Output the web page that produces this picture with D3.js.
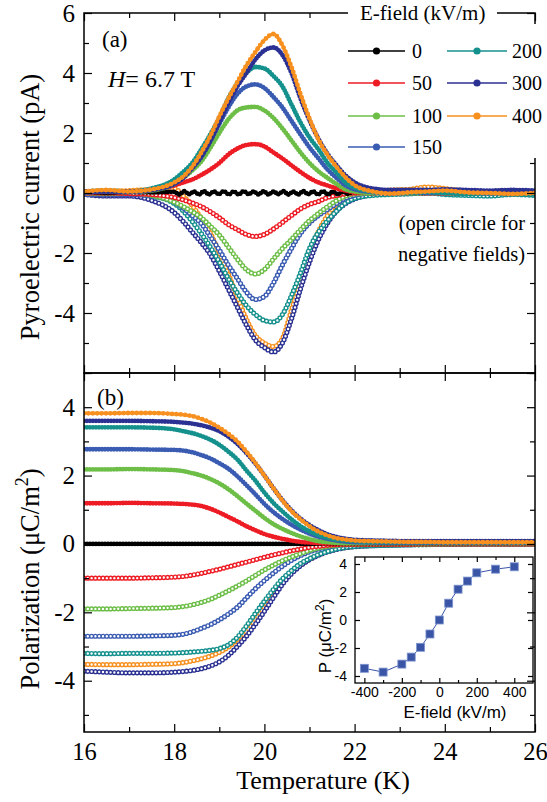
<!DOCTYPE html>
<html>
<head>
<meta charset="utf-8">
<script src="https://cdn.jsdelivr.net/npm/d3@7"></script>
<style>
  html, body { margin: 0; padding: 0; background: #fff; }
  svg { display: block; }
  .serif { font-family: "Liberation Serif", "Times New Roman", Times, serif; }
  .sans { font-family: "Liberation Sans", Arial, Helvetica, sans-serif; }
</style>
</head>
<body>
<svg id="fig" width="547" height="802"></svg>
<script>
// ---------- data ----------
// common temperature grid (K)
const temps = [16, 16.5, 17, 17.5, 18, 18.2, 18.4, 18.6, 18.8, 19, 19.2, 19.4, 19.6, 19.8, 20, 20.2,
  20.4, 20.6, 20.8, 21, 21.2, 21.4, 21.6, 21.8, 22, 22.4, 22.8, 23.2, 23.6, 24, 24.5, 25, 25.5, 26];

// finer grid for the zero-field current trace
const tempsFine = [16, 16.5, 17, 17.5,
  18.0, 18.11, 18.22, 18.33, 18.44, 18.55, 18.66, 18.77, 18.88, 18.99,
  19.1, 19.21, 19.32, 19.43, 19.54, 19.65, 19.76, 19.87, 19.98, 20.09,
  20.2, 20.31, 20.42, 20.53, 20.64, 20.75, 20.86, 20.97, 21.08, 21.19,
  21.3, 21.41, 21.52, 21.63, 21.74, 21.85, 21.96,
  22.4, 23, 23.5, 24, 24.5, 25, 25.5, 26];

const fieldLabels = ["0", "50", "100", "150", "200", "300", "400"];

// (a) pyroelectric current, pA
const cur0 = [0.02, 0.0, 0.03, 0.02,
  0.04, -0.05, 0.06, -0.04, 0.05, -0.05, 0.06, -0.05, 0.05, -0.04,
  0.06, -0.05, 0.05, -0.05, 0.06, -0.04, 0.05, -0.05, 0.06, -0.05,
  0.05, -0.04, 0.06, -0.05, 0.05, -0.05, 0.06, -0.04, 0.05, -0.05,
  0.06, -0.05, 0.05, -0.04, 0.05, -0.03, 0.04,
  0.0, 0.02, 0.0, 0.02, 0.0, 0.01, 0.0, 0.02];
const cur50 = [0.0, 0.03, 0.02, 0.1, 0.25, 0.35, 0.45, 0.6, 0.78, 1.0, 1.28, 1.48, 1.6, 1.63, 1.55, 1.35,
  1.15, 0.92, 0.7, 0.5, 0.35, 0.25, 0.15, 0.08, 0.03, 0.0, 0.02, 0.0, 0.03, 0.0, -0.02, 0.0, 0.02, 0.0];
const cur100 = [0.03, 0.05, 0.03, 0.08, 0.3, 0.5, 0.75, 1.05, 1.5, 2.0, 2.45, 2.75, 2.85, 2.87, 2.75, 2.5,
  2.15, 1.75, 1.35, 1.0, 0.72, 0.5, 0.3, 0.12, 0.05, 0.0, 0.02, 0.0, 0.02, 0.0, 0.0, -0.02, 0.0, 0.0];
const cur150 = [0.0, 0.05, 0.03, 0.1, 0.35, 0.55, 0.85, 1.25, 1.75, 2.3, 2.85, 3.3, 3.55, 3.62, 3.5, 3.2,
  2.85, 2.4, 1.95, 1.52, 1.15, 0.78, 0.5, 0.25, 0.12, 0.03, 0.0, 0.02, 0.0, 0.02, 0.0, -0.02, 0.0, 0.0];
const cur200 = [0.05, 0.08, 0.05, 0.15, 0.45, 0.7, 1.0, 1.45, 1.95, 2.5, 3.15, 3.65, 4.0, 4.2, 4.15, 3.9,
  3.55, 2.95, 2.35, 1.85, 1.45, 1.0, 0.68, 0.35, 0.18, 0.05, 0.02, 0.0, 0.03, 0.0, -0.03, 0.0, -0.02, -0.05];
const cur300 = [0.05, 0.05, 0.05, 0.1, 0.3, 0.5, 0.83, 1.2, 1.72, 2.35, 3.0, 3.55, 4.0, 4.45, 4.75, 4.85,
  4.6, 4.0, 3.15, 2.42, 1.8, 1.3, 0.92, 0.58, 0.35, 0.15, 0.1, 0.1, 0.1, 0.12, 0.1, 0.08, 0.1, 0.08];
const cur400 = [0.05, 0.1, 0.05, 0.12, 0.35, 0.55, 0.88, 1.35, 1.9, 2.55, 3.15, 3.7, 4.25, 4.7, 5.1, 5.3,
  4.92, 4.2, 3.3, 2.48, 1.78, 1.27, 0.87, 0.52, 0.26, 0.05, -0.02, 0.02, 0.05, 0.08, 0.02, 0.0, -0.03, 0.0];

const curNeg50 = [0.0, 0.0, -0.02, -0.05, -0.15, -0.23, -0.33, -0.45, -0.62, -0.82, -1.05, -1.22, -1.38, -1.45, -1.38, -1.2,
  -0.98, -0.75, -0.53, -0.38, -0.28, -0.15, -0.08, -0.03, 0.0, 0.02, 0.0, 0.02, 0.0, 0.0, 0.02, 0.0, -0.02, 0.0];
const curNeg100 = [0.0, -0.02, 0.0, -0.08, -0.3, -0.45, -0.62, -0.82, -1.1, -1.4, -1.8, -2.2, -2.55, -2.7, -2.55, -2.2,
  -1.85, -1.55, -1.22, -0.92, -0.68, -0.45, -0.25, -0.1, -0.03, 0.0, 0.02, 0.0, 0.0, 0.02, 0.0, 0.0, 0.02, 0.0];
const curNeg150 = [-0.05, -0.05, -0.05, -0.1, -0.3, -0.5, -0.75, -1.02, -1.45, -1.9, -2.4, -2.85, -3.3, -3.55, -3.45, -3.0,
  -2.4, -1.85, -1.35, -1.0, -0.75, -0.55, -0.35, -0.17, -0.08, 0.0, 0.02, 0.0, 0.03, 0.0, 0.02, 0.0, 0.03, 0.0];
const curNeg200 = [0.0, -0.03, 0.0, -0.1, -0.35, -0.6, -0.95, -1.35, -1.8, -2.3, -2.85, -3.33, -3.75, -4.05, -4.25, -4.3,
  -4.05, -3.42, -2.67, -1.85, -1.3, -0.92, -0.6, -0.33, -0.18, -0.08, -0.05, -0.03, 0.0, -0.05, -0.08, -0.1, -0.05, -0.08];
const curNeg300 = [-0.05, -0.1, -0.1, -0.25, -0.65, -0.95, -1.3, -1.65, -2.05, -2.6, -3.2, -3.8, -4.4, -4.9, -5.15, -5.3,
  -5.0, -4.2, -3.2, -2.3, -1.55, -1.0, -0.6, -0.35, -0.2, -0.05, 0.0, 0.03, 0.05, 0.08, 0.05, 0.03, 0.05, 0.03];
const curNeg400 = [0.0, 0.05, 0.08, 0.12, 0.15, -0.1, -0.42, -0.85, -1.33, -2.0, -2.7, -3.47, -4.2, -4.75, -5.0, -5.12,
  -4.85, -3.9, -2.95, -2.05, -1.28, -0.75, -0.38, -0.15, 0.0, 0.05, 0.1, 0.12, 0.2, 0.15, 0.05, 0.0, 0.02, -0.02];

// (b) polarization, uC/m^2
const pol0 = [0, 0, 0, 0, 0, 0, 0, 0, 0, 0, 0, 0, 0, 0, 0, 0, 0, 0, 0, 0, 0, 0, 0, 0, 0, 0, 0, 0, 0, 0, 0, 0, 0, 0];
const pol50 = [1.19, 1.19, 1.2, 1.19, 1.18, 1.17, 1.15, 1.11, 1.03, 0.92, 0.79, 0.66, 0.52, 0.4, 0.29, 0.21,
  0.15, 0.1, 0.06, 0.04, 0.02, 0.01, 0.01, 0.01, 0.01, 0.01, 0.01, 0.01, 0.01, 0.01, 0.01, 0.01, 0.01, 0.01];
const pol100 = [2.18, 2.18, 2.19, 2.18, 2.16, 2.13, 2.07, 2.0, 1.9, 1.77, 1.6, 1.4, 1.18, 0.97, 0.76, 0.58,
  0.44, 0.32, 0.22, 0.14, 0.08, 0.05, 0.03, 0.02, 0.02, 0.02, 0.02, 0.02, 0.02, 0.02, 0.02, 0.02, 0.02, 0.02];
const pol150 = [2.77, 2.77, 2.77, 2.76, 2.75, 2.73, 2.68, 2.6, 2.5, 2.36, 2.2, 1.98, 1.72, 1.45, 1.17, 0.93,
  0.73, 0.56, 0.42, 0.3, 0.21, 0.15, 0.1, 0.07, 0.05, 0.04, 0.03, 0.03, 0.03, 0.03, 0.03, 0.03, 0.03, 0.03];
const pol200 = [3.41, 3.41, 3.41, 3.4, 3.35, 3.3, 3.24, 3.16, 3.05, 2.9, 2.7, 2.47, 2.15, 1.85, 1.5, 1.2,
  0.95, 0.72, 0.52, 0.37, 0.26, 0.18, 0.13, 0.1, 0.08, 0.06, 0.05, 0.05, 0.05, 0.05, 0.05, 0.05, 0.05, 0.05];
const pol300 = [3.6, 3.6, 3.6, 3.59, 3.57, 3.55, 3.52, 3.47, 3.4, 3.3, 3.14, 2.93, 2.66, 2.35, 2.0, 1.63,
  1.28, 0.98, 0.74, 0.55, 0.4, 0.28, 0.2, 0.15, 0.12, 0.1, 0.09, 0.08, 0.08, 0.08, 0.08, 0.08, 0.08, 0.08];
const pol400 = [3.82, 3.82, 3.83, 3.83, 3.8, 3.78, 3.74, 3.66, 3.55, 3.4, 3.22, 3.0, 2.7, 2.37, 2.0, 1.63,
  1.27, 0.96, 0.72, 0.52, 0.36, 0.25, 0.17, 0.13, 0.1, 0.08, 0.07, 0.06, 0.06, 0.05, 0.05, 0.05, 0.05, 0.05];

const polNeg50 = [-1.0, -1.0, -1.0, -0.99, -0.97, -0.95, -0.91, -0.86, -0.8, -0.74, -0.67, -0.6, -0.53, -0.46, -0.39, -0.32,
  -0.26, -0.2, -0.15, -0.1, -0.07, -0.04, -0.02, -0.01, -0.01, -0.01, -0.01, -0.01, 0.0, 0.0, 0.0, 0.0, 0.0, 0.0];
const polNeg100 = [-1.9, -1.9, -1.89, -1.88, -1.86, -1.83, -1.78, -1.71, -1.62, -1.5, -1.37, -1.23, -1.08, -0.92, -0.76, -0.62,
  -0.49, -0.38, -0.28, -0.19, -0.12, -0.07, -0.04, -0.02, -0.01, -0.01, -0.01, -0.01, -0.01, 0.0, 0.0, 0.0, 0.0, 0.0];
const polNeg150 = [-2.7, -2.7, -2.7, -2.69, -2.67, -2.64, -2.57, -2.47, -2.36, -2.22, -2.05, -1.85, -1.58, -1.31, -1.07, -0.85,
  -0.65, -0.48, -0.34, -0.23, -0.15, -0.09, -0.05, -0.03, -0.01, -0.01, -0.01, 0.0, 0.0, 0.0, 0.0, 0.0, 0.0, 0.0];
const polNeg200 = [-3.2, -3.21, -3.2, -3.2, -3.19, -3.18, -3.16, -3.14, -3.11, -3.06, -2.95, -2.73, -2.4, -2.03, -1.67, -1.33,
  -1.02, -0.78, -0.57, -0.43, -0.31, -0.22, -0.15, -0.1, -0.07, -0.05, -0.04, -0.03, -0.02, -0.01, 0.0, 0.01, 0.02, 0.02];
const polNeg300 = [-3.72, -3.75, -3.77, -3.77, -3.75, -3.73, -3.7, -3.65, -3.57, -3.45, -3.26, -3.0, -2.7, -2.35, -1.97, -1.57,
  -1.18, -0.87, -0.64, -0.46, -0.33, -0.23, -0.16, -0.11, -0.08, -0.05, -0.03, -0.02, -0.01, 0.0, 0.0, 0.0, 0.0, 0.0];
const polNeg400 = [-3.52, -3.53, -3.53, -3.52, -3.5, -3.47, -3.42, -3.36, -3.28, -3.17, -3.02, -2.8, -2.55, -2.22, -1.85, -1.48,
  -1.12, -0.83, -0.62, -0.45, -0.32, -0.22, -0.15, -0.1, -0.07, -0.04, -0.02, 0.0, 0.02, 0.03, 0.04, 0.05, 0.05, 0.05];

// inset: low-temperature polarization vs poling field
const insetFields = [-400, -300, -200, -150, -100, -50, 0, 50, 100, 150, 200, 300, 400];
const insetPol = [-3.45, -3.72, -3.15, -2.65, -1.95, -1.0, 0.0, 1.2, 2.2, 2.78, 3.37, 3.63, 3.8];

// axis ticks
const tempTicks = [16, 18, 20, 22, 24, 26];
const tempMinor = [17, 19, 21, 23, 25];
const curTicks = [-6, -4, -2, 0, 2, 4, 6];
const curTickLabels = [-4, -2, 0, 2, 4, 6];
const curMinor = [-5, -3, -1, 1, 3, 5];
const polTicks = [-4, -2, 0, 2, 4];
const polMinor = [-5, -3, -1, 1, 3, 5];
const insetXTicks = [-400, -200, 0, 200, 400];
const insetXMinor = [-300, -100, 100, 300];
const insetYTicks = [-4, -2, 0, 2, 4];

// ---------- drawing ----------
const svg = d3.select("#fig");

const left = 84, right = 535, topA = 13, mid = 373, bottomB = 732;
const x = d3.scaleLinear().domain([16, 26]).range([left, right]);
const yA = d3.scaleLinear().domain([-6, 6]).range([mid, topA]);
const yB = d3.scaleLinear().domain([-5.5, 5]).range([bottomB, mid]);

const color = {
  "0": "#000000", "50": "#ed1c24", "100": "#6cbe47", "150": "#3a5bb2",
  "200": "#14908d", "300": "#2b3192", "400": "#f7901e"
};

const defs = svg.append("defs");
defs.append("clipPath").attr("id", "clipA").append("rect")
  .attr("x", left).attr("y", topA).attr("width", right - left).attr("height", mid - topA);
defs.append("clipPath").attr("id", "clipB").append("rect")
  .attr("x", left).attr("y", mid).attr("width", right - left).attr("height", bottomB - mid);

// a trace drawn as a chain of filled or open circle markers
function trace(g, xs, ys, yScale, col, open, gap) {
  const line = d3.line()
    .x((d, i) => x(xs[i]))
    .y(d => yScale(d))
    .curve(d3.curveMonotoneX);
  const d = line(ys);
  if (open) {
    g.append("path").attr("d", d).attr("fill", "none").attr("stroke", col)
      .attr("stroke-width", 5.2).attr("stroke-linecap", "round")
      .attr("stroke-dasharray", `0 ${gap}`);
    g.append("path").attr("d", d).attr("fill", "none").attr("stroke", "#fff")
      .attr("stroke-width", 2.4).attr("stroke-linecap", "round")
      .attr("stroke-dasharray", `0 ${gap}`);
  } else {
    g.append("path").attr("d", d).attr("fill", "none").attr("stroke", col)
      .attr("stroke-width", 3).attr("stroke-linejoin", "round");
    g.append("path").attr("d", d).attr("fill", "none").attr("stroke", col)
      .attr("stroke-width", 4.8).attr("stroke-linecap", "round")
      .attr("stroke-dasharray", `0 ${gap}`);
  }
}

// panel (a)
const gA = svg.append("g").attr("clip-path", "url(#clipA)");
const negCur = [["400", curNeg400], ["300", curNeg300], ["200", curNeg200], ["150", curNeg150], ["100", curNeg100], ["50", curNeg50]];
negCur.forEach(([k, v]) => trace(gA, temps, v, yA, color[k], true, 3.8));
trace(gA, tempsFine, cur0, yA, color["0"], false, 3);
const posCur = [["50", cur50], ["100", cur100], ["150", cur150], ["200", cur200], ["300", cur300], ["400", cur400]];
posCur.forEach(([k, v]) => trace(gA, temps, v, yA, color[k], false, k === "400" ? 4.4 : 3));

// panel (b)
const gB = svg.append("g").attr("clip-path", "url(#clipB)");
const negPol = [["400", polNeg400], ["300", polNeg300], ["200", polNeg200], ["150", polNeg150], ["100", polNeg100], ["50", polNeg50]];
negPol.forEach(([k, v]) => trace(gB, temps, v, yB, color[k], true, 3.8));
trace(gB, temps, pol0, yB, color["0"], false, 3);
const posPol = [["50", pol50], ["100", pol100], ["150", pol150], ["200", pol200], ["300", pol300], ["400", pol400]];
posPol.forEach(([k, v]) => trace(gB, temps, v, yB, color[k], false, k === "400" ? 4.4 : 3));

// inset
const ix = d3.scaleLinear().domain([-450, 500]).range([355, 533]);
const iy = d3.scaleLinear().domain([-4.5, 4.5]).range([683, 557]);
const gI = svg.append("g");
gI.append("rect").attr("x", 355).attr("y", 557).attr("width", 533 - 355).attr("height", 683 - 557)
  .attr("fill", "#fff").attr("stroke", "#000").attr("stroke-width", 1.3);

function styleAxis(g, cls, size) {
  g.select(".domain").remove();
  g.attr("font-family", null);
  g.selectAll("line").attr("stroke", "#000").attr("stroke-width", 1.2);
  g.selectAll("text").attr("class", cls).attr("font-size", size).attr("fill", "#000");
  return g;
}
function addAxis(axis, tx, ty, cls, size) {
  const g = svg.append("g").attr("transform", `translate(${tx},${ty})`).call(axis);
  return styleAxis(g, cls, size);
}

addAxis(d3.axisBottom(ix).tickValues(insetXTicks).tickSizeInner(-5).tickSizeOuter(0).tickPadding(4)
  .tickFormat(d => String(d)), 0, 683, "sans", 14);
addAxis(d3.axisBottom(ix).tickValues(insetXMinor).tickSizeInner(-3).tickSizeOuter(0).tickFormat(""), 0, 683, "sans", 14);
addAxis(d3.axisTop(ix).tickValues(insetXTicks).tickSizeInner(-5).tickSizeOuter(0).tickFormat(""), 0, 557, "sans", 14);
addAxis(d3.axisTop(ix).tickValues(insetXMinor).tickSizeInner(-3).tickSizeOuter(0).tickFormat(""), 0, 557, "sans", 14);
addAxis(d3.axisLeft(iy).tickValues(insetYTicks).tickSizeInner(-5).tickSizeOuter(0).tickPadding(8)
  .tickFormat(d => String(d)), 355, 0, "sans", 14);
addAxis(d3.axisRight(iy).tickValues(insetYTicks).tickSizeInner(-5).tickSizeOuter(0).tickFormat(""), 533, 0, "sans", 14);

const insetLine = d3.line().x((d, i) => ix(insetFields[i])).y(d => iy(d));
gI.append("path").attr("d", insetLine(insetPol)).attr("fill", "none")
  .attr("stroke", "#3a56a8").attr("stroke-width", 1);
gI.selectAll("rect.sq").data(insetPol).enter().append("rect").attr("class", "sq")
  .attr("x", (d, i) => ix(insetFields[i]) - 4).attr("y", d => iy(d) - 4)
  .attr("width", 8).attr("height", 8)
  .attr("fill", "#3a55a6").attr("stroke", "#7f95cf").attr("stroke-width", 0.8);

svg.append("text").attr("class", "sans").attr("x", 455).attr("y", 718).attr("text-anchor", "middle")
  .attr("font-size", 17).text("E-field (kV/m)");
const iyl = svg.append("text").attr("class", "sans").attr("transform", "translate(331,636) rotate(-90)")
  .attr("text-anchor", "middle").attr("font-size", 17);
iyl.append("tspan").text("P (\u03bcC/m");
iyl.append("tspan").attr("font-size", 12).attr("dy", -7).text("2");
iyl.append("tspan").attr("font-size", 17).attr("dy", 7).text(")");

// main frames and ticks
function panelAxes(yScale, y0, y1, major, minor, labelled) {
  addAxis(d3.axisLeft(yScale).tickValues(major).tickSizeInner(-8).tickSizeOuter(0).tickPadding(9)
    .tickFormat(d => labelled.includes(d) ? String(d) : ""), left, 0, "serif", 25);
  addAxis(d3.axisLeft(yScale).tickValues(minor).tickSizeInner(-5).tickSizeOuter(0).tickFormat(""), left, 0, "serif", 25);
  addAxis(d3.axisRight(yScale).tickValues(major).tickSizeInner(-8).tickSizeOuter(0).tickFormat(""), right, 0, "serif", 25);
  addAxis(d3.axisRight(yScale).tickValues(minor).tickSizeInner(-5).tickSizeOuter(0).tickFormat(""), right, 0, "serif", 25);
  addAxis(d3.axisTop(x).tickValues(tempTicks).tickSizeInner(-8).tickSizeOuter(0).tickFormat(""), 0, y0, "serif", 25);
  addAxis(d3.axisTop(x).tickValues(tempMinor).tickSizeInner(-5).tickSizeOuter(0).tickFormat(""), 0, y0, "serif", 25);
  addAxis(d3.axisBottom(x).tickValues(tempMinor).tickSizeInner(-5).tickSizeOuter(0).tickFormat(""), 0, y1, "serif", 25);
  svg.append("rect").attr("x", left).attr("y", y0).attr("width", right - left).attr("height", y1 - y0)
    .attr("fill", "none").attr("stroke", "#000").attr("stroke-width", 1.5);
}
panelAxes(yA, topA, mid, curTicks, curMinor, curTickLabels);
addAxis(d3.axisBottom(x).tickValues(tempTicks).tickSizeInner(-8).tickSizeOuter(0).tickFormat(""), 0, mid, "serif", 25);
panelAxes(yB, mid, bottomB, polTicks, polMinor, polTicks);
addAxis(d3.axisBottom(x).tickValues(tempTicks).tickSizeInner(-8).tickSizeOuter(0).tickPadding(11)
  .tickFormat(d => String(d)), 0, bottomB, "serif", 24.5);

// axis titles
svg.append("text").attr("class", "serif").attr("transform", "translate(39,207) rotate(-90)")
  .attr("text-anchor", "middle").attr("font-size", 26.5).text("Pyroelectric current (pA)");
const pyl = svg.append("text").attr("class", "serif").attr("transform", "translate(39,579) rotate(-90)")
  .attr("text-anchor", "middle").attr("font-size", 26.5);
pyl.append("tspan").text("Polarization (\u03bcC/m");
pyl.append("tspan").attr("font-size", 18).attr("dy", -11).text("2");
pyl.append("tspan").attr("font-size", 26.5).attr("dy", 11).text(")");
svg.append("text").attr("class", "serif").attr("x", 323).attr("y", 789).attr("text-anchor", "middle")
  .attr("font-size", 26).text("Temperature (K)");

// panel labels and notes
svg.append("text").attr("class", "serif").attr("x", 102).attr("y", 47).attr("font-size", 23).text("(a)");
svg.append("text").attr("class", "serif").attr("x", 97).attr("y", 405).attr("font-size", 23).text("(b)");
const hl = svg.append("text").attr("class", "serif").attr("x", 108).attr("y", 87).attr("font-size", 24);
hl.append("tspan").attr("font-style", "italic").text("H");
hl.append("tspan").text("= 6.7 T");
svg.append("text").attr("class", "serif").attr("x", 525).attr("y", 230).attr("text-anchor", "end")
  .attr("font-size", 20.5).text("(open circle for");
svg.append("text").attr("class", "serif").attr("x", 525).attr("y", 261).attr("text-anchor", "end")
  .attr("font-size", 20.5).text("negative fields)");

// legend
svg.append("rect").attr("x", 348).attr("y", 2).attr("width", 149).attr("height", 23).attr("fill", "#fff");
svg.append("rect").attr("x", 340).attr("y", 24).attr("width", 207).attr("height", 134).attr("fill", "#fff");
svg.append("text").attr("class", "serif").attr("x", 360).attr("y", 20).attr("font-size", 21)
  .text("E-field (kV/m)");
const legendPos = [
  { key: "0", col: 0, row: 0 }, { key: "50", col: 0, row: 1 }, { key: "100", col: 0, row: 2 },
  { key: "150", col: 0, row: 3 }, { key: "200", col: 1, row: 0 }, { key: "300", col: 1, row: 1 },
  { key: "400", col: 1, row: 2 }
];
const legCols = [{ x1: 348, x2: 405, tx: 412 }, { x1: 447, x2: 507, tx: 512 }];
const legRows = [51, 83, 116, 147];
legendPos.forEach(p => {
  const c = legCols[p.col], yy = legRows[p.row];
  const lab = fieldLabels[fieldLabels.indexOf(p.key)];
  svg.append("line").attr("x1", c.x1).attr("x2", c.x2).attr("y1", yy).attr("y2", yy)
    .attr("stroke", color[p.key]).attr("stroke-width", 1.6);
  svg.append("circle").attr("cx", (c.x1 + c.x2) / 2).attr("cy", yy).attr("r", 3.6).attr("fill", color[p.key]);
  svg.append("text").attr("class", "serif").attr("x", c.tx).attr("y", yy + 7).attr("font-size", 20)
    .text(lab);
});
</script>
</body>
</html>
